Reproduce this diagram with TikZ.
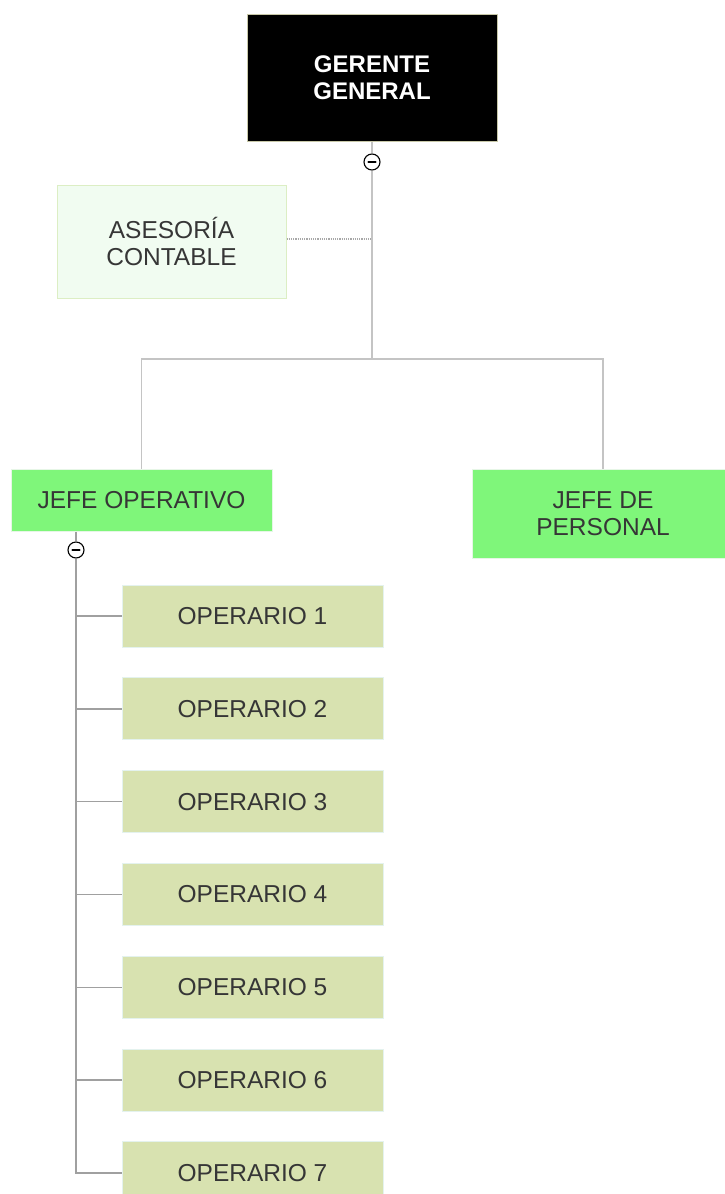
\documentclass[tikz,border=0pt]{standalone}
\usepackage{fontspec}
\setmainfont{Liberation Sans}
\definecolor{topline}{HTML}{C4C4C4}
\definecolor{subline}{HTML}{A0A0A0}
\definecolor{dotline}{HTML}{A8A8A8}
\definecolor{boardfill}{HTML}{000000}
\definecolor{boardedge}{HTML}{C8C8A8}
\definecolor{advfill}{HTML}{F1FCF1}
\definecolor{advedge}{HTML}{DCEEC4}
\definecolor{headfill}{HTML}{7FF67A}
\definecolor{headedge}{HTML}{E6F6E6}
\definecolor{workfill}{HTML}{D8E2B0}
\definecolor{workedge}{HTML}{E4F2EE}
\definecolor{txt}{HTML}{363636}
\tikzset{
  box/.style={rectangle, inner sep=0pt, align=center, line width=1pt,
    font=\fontsize{24.5}{27.5}\selectfont, text=txt},
  board/.style={box, fill=boardfill, draw=boardedge, text=white,
    font=\fontsize{24}{27.5}\selectfont\bfseries,
    minimum width=250pt, minimum height=127pt},
  adv/.style={box, fill=advfill, draw=advedge, minimum width=229pt, minimum height=113pt},
  head/.style={box, fill=headfill, draw=headedge, minimum width=261pt},
  worker/.style={box, fill=workfill, draw=workedge, minimum width=261pt, minimum height=62pt},
  conn/.style={draw=topline, line width=1.4pt},
  subconn/.style={draw=subline, line width=1.4pt},
  toggle/.style={circle, draw=black, fill=white, line width=1.1pt, minimum size=16pt, inner sep=0pt,
    path picture={\draw[line width=2.2pt, line cap=round]
      ([xshift=-3.5pt]path picture bounding box.center) -- ([xshift=3.5pt]path picture bounding box.center);}}
}
\begin{document}
\begin{tikzpicture}[x=1pt, y=-1pt]
\useasboundingbox (0,0) rectangle (724,1194);

% top of the chart
\node[board] (gg) at (372,77.5) {GERENTE\\GENERAL};
\node[toggle] (c1) at (372,162) {};
\node[adv] (as) at (171.5,241.5) {ASESORÍA\\CONTABLE};
\coordinate (split) at (372,359);

% department heads
\node[head, minimum height=62pt] (jo) at (141.5,500) {JEFE OPERATIVO};
\node[head, minimum height=89pt] (jp) at (603,513.5) {JEFE DE\\PERSONAL};
\node[toggle] (c2) at (76,550) {};

% operators
\foreach \i in {1,...,7}{
  \node[worker] (op\i) at (252.5,{616+92.8*(\i-1)}) {OPERARIO \i};
}

% connectors
\draw[conn] (gg.south) -- (c1.north);
\draw[conn] (c1.south) -- (split);
\draw[draw=dotline, line width=2pt, dash pattern=on 1.2pt off 1pt] ([yshift=2.5pt]as.east) -- ([yshift=2.5pt]as.east -| c1);
\draw[conn] (split) -| (jo.north);
\draw[conn] (split) -| (jp.north);

\draw[subconn] (jo.south -| c2) -- (c2.north);
\draw[subconn] (c2.south) |- (op7.west);
\foreach \i in {1,...,6}{
  \draw[subconn] (op\i.west -| c2) -- (op\i.west);
}
\end{tikzpicture}
\end{document}
